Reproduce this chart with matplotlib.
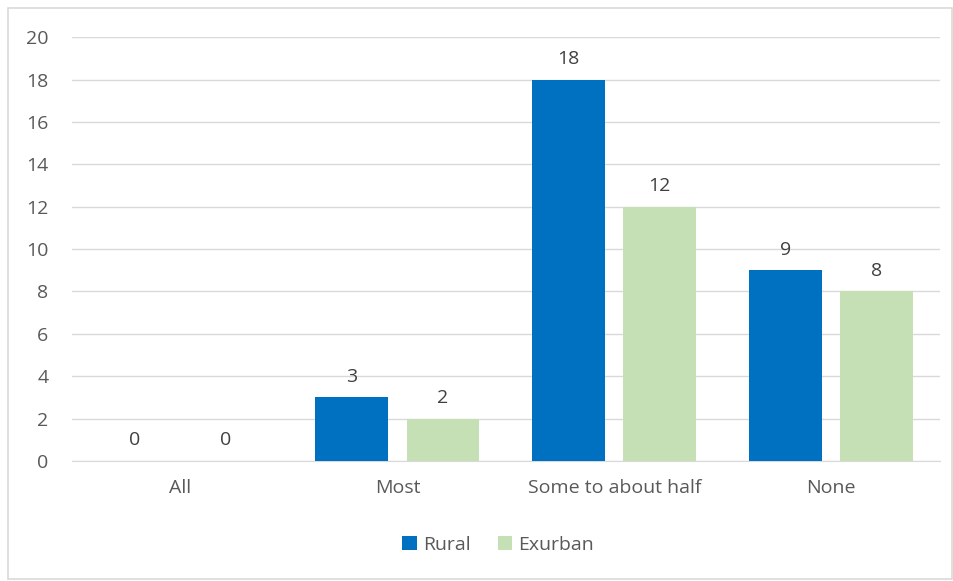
import matplotlib
matplotlib.use("Agg")
import matplotlib.pyplot as plt
from matplotlib.patches import Rectangle
import numpy as np

# chart data
categories = ["All", "Most", "Some to about half", "None"]
rural = [0, 3, 18, 9]
exurban = [0, 2, 12, 8]
series_names = ["Rural", "Exurban"]

blue = "#0070C0"
green = "#C5E0B4"
text_col = "#595959"

plt.rcParams["font.family"] = ["Open Sans", "DejaVu Sans"]

fig = plt.figure(figsize=(9.54, 5.81), dpi=100)
ax = fig.add_axes([0.0755, 0.2065, 0.9095, 0.7295])

x = np.arange(len(categories))
w = 0.336
off = 0.21
b1 = ax.bar(x - off, rural, w, color=blue, label=series_names[0], zorder=3)
b2 = ax.bar(x + off, exurban, w, color=green, label=series_names[1], zorder=3)

for bars, vals in ((b1, rural), (b2, exurban)):
    for rect, v in zip(bars, vals):
        ax.text(rect.get_x() + rect.get_width() / 2, v + 0.55, str(v),
                ha="center", va="bottom", fontsize=14, color="#404040")

ax.set_xlim(-0.5, len(categories) - 0.5)
ax.set_ylim(0, 20)
ax.set_yticks(range(0, 21, 2))
ax.set_xticks(x)
ax.set_xticklabels(categories)
ax.tick_params(axis="both", length=0, labelsize=14, colors=text_col)
ax.tick_params(axis="x", pad=13)
ax.tick_params(axis="y", pad=17)
ax.grid(axis="y", color="#D9D9D9", linewidth=1, zorder=0)
for s in ["top", "right", "left"]:
    ax.spines[s].set_visible(False)
ax.spines["bottom"].set_color("#D9D9D9")

fig.legend(handles=[b1, b2], loc="center", bbox_to_anchor=(0.522, 0.062),
           ncol=2, frameon=False, fontsize=14, labelcolor=text_col,
           handlelength=0.75, handleheight=0.75, handletextpad=0.3,
           columnspacing=1.4)

fig.patches.append(Rectangle((8 / 954, 2 / 581), 944 / 954, 571 / 581,
                             transform=fig.transFigure, fill=False,
                             edgecolor="#D9D9D9", linewidth=1.2))

fig.savefig("out.png", dpi=100)
